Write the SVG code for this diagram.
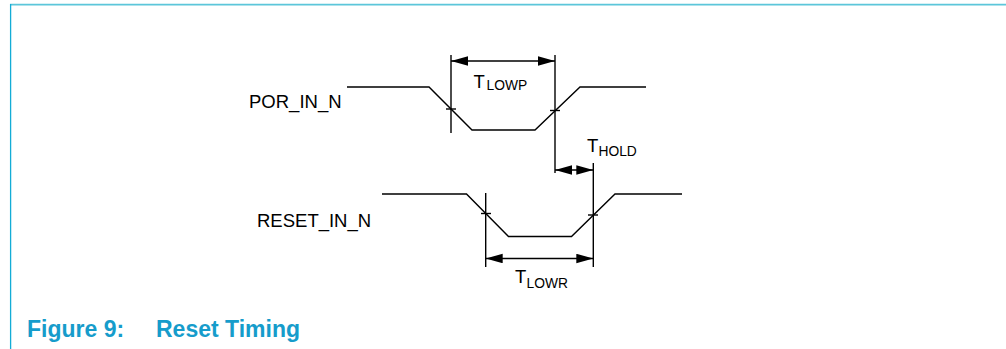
<svg xmlns="http://www.w3.org/2000/svg" width="1006" height="349" viewBox="0 0 1006 349">
<style>
.w{fill:none;stroke:#000;stroke-width:1.4;stroke-linejoin:miter}
.d{fill:none;stroke:#000;stroke-width:1.4}
.a{fill:none;stroke:#000;stroke-width:1.4;marker-start:url(#ah);marker-end:url(#ah)}
.lbl{font-family:"Liberation Sans",Arial,sans-serif;font-size:18.5px;fill:#000}
.sub{font-size:13.8px}
.cap{font-family:"Liberation Sans",Arial,sans-serif;font-size:23px;font-weight:bold;fill:#169ccb}
</style>
<defs>
<marker id="ah" markerUnits="userSpaceOnUse" markerWidth="18" markerHeight="10" refX="17" refY="4.75" orient="auto-start-reverse" viewBox="0 0 18 10">
<path d="M0,0 L17,4.75 L0,9.5 z" fill="#000"/>
</marker>
</defs>
<g id="frame">
<line x1="10" y1="4.7" x2="1006" y2="4.7" stroke="#5cc6da" stroke-width="1.8"/>
<line x1="10.6" y1="4" x2="10.6" y2="349" stroke="#13acd6" stroke-width="1.3"/>
</g>
<g id="por_in_n">
<text class="lbl" x="249" y="108">POR_IN_N</text>
<polyline class="w" points="347,87 429,87 472,130 535,130 580,87 646,87"/>
<line class="d" x1="446" y1="109" x2="456" y2="109"/>
<line class="d" x1="550" y1="110.5" x2="560" y2="110.5"/>
</g>
<g id="reset_in_n">
<text class="lbl" x="257" y="226.5">RESET_IN_N</text>
<polyline class="w" points="382,194 466.5,194 508.5,236.5 571.5,236.5 615,194 682,194"/>
<line class="d" x1="481" y1="213.5" x2="491" y2="213.5"/>
<line class="d" x1="588" y1="215" x2="598" y2="215"/>
</g>
<g id="connectors">
<line class="d" x1="451" y1="55" x2="451" y2="133"/>
<line class="d" x1="555" y1="55" x2="555" y2="173"/>
<line class="d" x1="485.7" y1="193" x2="485.7" y2="267"/>
<line class="d" x1="593.3" y1="163" x2="593.3" y2="267"/>
<line class="a" x1="451" y1="61" x2="555" y2="61"/>
<line class="a" x1="555" y1="170" x2="593.3" y2="170"/>
<line class="a" x1="485.7" y1="258.5" x2="593.3" y2="258.5"/>
</g>
<g id="labels">
<text class="lbl" x="473.5" y="87.5">T<tspan class="sub" x="486.5" y="90">LOWP</tspan></text>
<text class="lbl" x="587" y="151.5">T<tspan class="sub" x="598.5" y="156">HOLD</tspan></text>
<text class="lbl" x="515" y="282.5">T<tspan class="sub" x="526.5" y="287.5">LOWR</tspan></text>
</g>
<g id="caption">
<text class="cap" x="27" y="336.5">Figure 9:</text>
<text class="cap" x="156" y="336.5">Reset Timing</text>
</g>
</svg>
